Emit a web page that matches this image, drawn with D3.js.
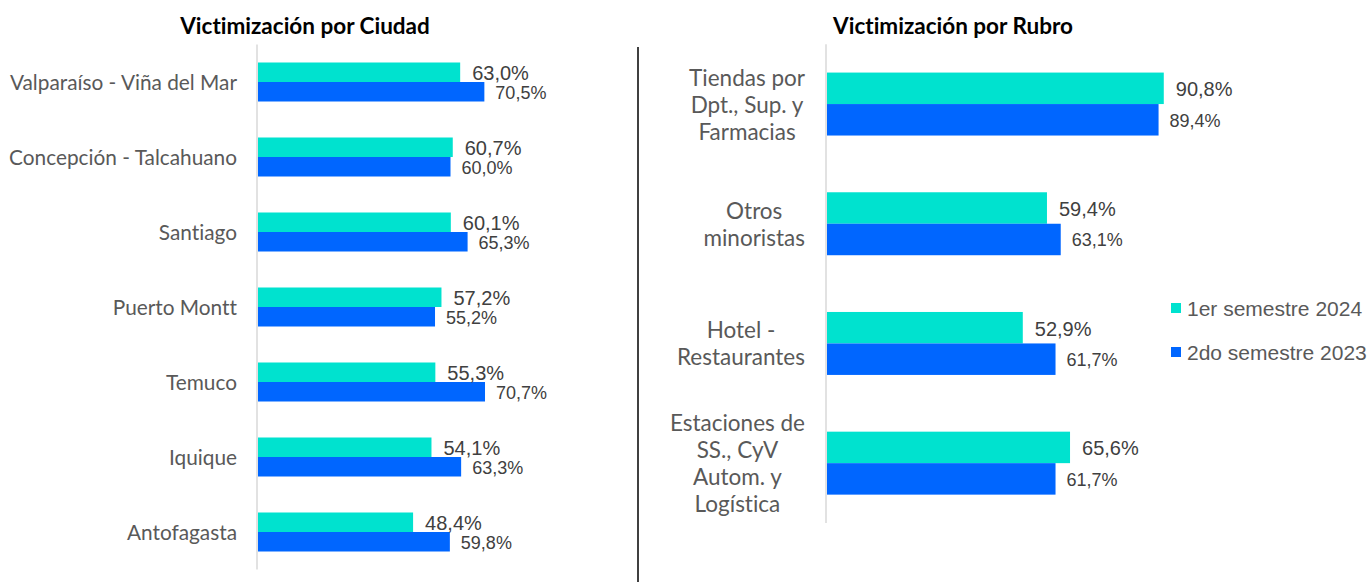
<!DOCTYPE html>
<html>
<head>
<meta charset="utf-8">
<script src="https://cdn.jsdelivr.net/npm/d3@7"></script>
<style>
  html, body { margin: 0; padding: 0; background: #fff; }
  svg { display: block; }
  text { font-variant-ligatures: none; font-feature-settings: "liga" 0, "dlig" 0; }
</style>
</head>
<body>
<svg id="chart" width="1369" height="582"></svg>
<script>
// ---- Data ----
const seriesNames = ["1er semestre 2024", "2do semestre 2023"];
const seriesColors = ["#00E2CF", "#0066FF"];

const cities = ["Valparaíso - Viña del Mar", "Concepción - Talcahuano", "Santiago", "Puerto Montt", "Temuco", "Iquique", "Antofagasta"];
const city2024 = [63.0, 60.7, 60.1, 57.2, 55.3, 54.1, 48.4];
const city2023 = [70.5, 60.0, 65.3, 55.2, 70.7, 63.3, 59.8];

const rubros = ["Tiendas por Dpt., Sup. y Farmacias", "Otros minoristas", "Hotel - Restaurantes", "Estaciones de SS., CyV Autom. y Logística"];
const rubroLines = [["Tiendas por", "Dpt., Sup. y", "Farmacias"], ["Otros", "minoristas"], ["Hotel -", "Restaurantes"], ["Estaciones de", "SS., CyV", "Autom. y", "Logística"]];
const rubro2024 = [90.8, 59.4, 52.9, 65.6];
const rubro2023 = [89.4, 63.1, 61.7, 61.7];

const fmt = v => d3.format(".1f")(v).replace(".", ",") + "%";

const svg = d3.select("#chart");
const catFont = "Lato, 'Noto Sans', sans-serif";
const numFont = "'Liberation Sans', Arial, sans-serif";

function panel(opts) {
  const { cats, s1, s2, x0, xPerUnit, yRange, padding, title, titleX } = opts;
  const x = d3.scaleLinear().domain([0, 100]).range([x0, x0 + 100 * xPerUnit]);
  const y = d3.scaleBand().domain(cats).range(yRange).paddingInner(padding).paddingOuter(padding / 2);
  const ys = d3.scaleBand().domain([0, 1]).range([0, y.bandwidth()]);
  const g = svg.append("g");

  // title
  g.append("text").attr("x", titleX).attr("y", 34).attr("text-anchor", "middle")
    .style("font-family", catFont).style("font-weight", "bold").style("font-size", "22.5px")
    .style("fill", "#000").text(title);

  // axis line
  g.append("line").attr("x1", x(0)).attr("x2", x(0))
    .attr("y1", yRange[0]).attr("y2", yRange[1])
    .attr("stroke", "#d9d9d9").attr("stroke-width", 1.5);

  const data = cats.map((c, i) => ({ c, v: [s1[i], s2[i]] }));
  const grp = g.selectAll("g.cat").data(data).join("g").attr("class", "cat")
    .attr("transform", d => `translate(0,${y(d.c)})`);

  grp.selectAll("rect").data(d => d.v.map((v, k) => ({ v, k }))).join("rect")
    .attr("x", x(0) + 1)
    .attr("y", d => ys(d.k))
    .attr("width", d => x(d.v) - x(0) - 1)
    .attr("height", ys.bandwidth())
    .attr("fill", d => seriesColors[d.k]);

  grp.selectAll("text.val").data(d => d.v.map((v, k) => ({ v, k }))).join("text")
    .attr("class", "val")
    .attr("x", d => x(d.v) + (d.k === 0 ? 12 : 11))
    .attr("y", d => ys(d.k) + ys.bandwidth() / 2 + 1)
    .attr("dominant-baseline", "central")
    .style("font-family", numFont)
    .style("font-size", d => d.k === 0 ? "20px" : "18px")
    .style("fill", "#404040")
    .text(d => fmt(d.v));

  return { g, x, y };
}

// Left panel
const left = panel({
  cats: cities, s1: city2024, s2: city2023,
  x0: 257, xPerUnit: 3.225, yRange: [44.5, 569.5], padding: 0.48,
  title: "Victimización por Ciudad", titleX: 305
});
left.g.selectAll("text.cat").data(cities).join("text").attr("class", "cat")
  .attr("x", 237).attr("y", d => left.y(d) + left.y.bandwidth() / 2 - 1)
  .attr("text-anchor", "end").attr("dominant-baseline", "central")
  .style("font-family", catFont).style("font-size", "20.8px").style("fill", "#595959")
  .text(d => d);

// Right panel
const right = panel({
  cats: rubros, s1: rubro2024, s2: rubro2023,
  x0: 826, xPerUnit: 3.72, yRange: [44.2, 523], padding: 0.474,
  title: "Victimización por Rubro", titleX: 953
});
rubros.forEach((r, i) => {
  const lines = rubroLines[i];
  const cy = right.y(r) + right.y.bandwidth() / 2;
  const lh = 27;
  const tg = right.g.append("g");
  const texts = tg.selectAll("text").data(lines).join("text")
    .attr("y", (d, j) => cy + (j - (lines.length - 1) / 2) * lh)
    .attr("text-anchor", "middle").attr("dominant-baseline", "central")
    .style("font-family", catFont).style("font-size", "22.5px").style("fill", "#595959")
    .text(d => d);
  let maxW = 0;
  texts.each(function () { maxW = Math.max(maxW, this.getComputedTextLength()); });
  texts.attr("x", 805 - maxW / 2);
});

// Divider
svg.append("line").attr("x1", 638).attr("x2", 638).attr("y1", 47).attr("y2", 582)
  .attr("stroke", "#404040").attr("stroke-width", 2);

// Legend
const leg = svg.append("g").attr("transform", "translate(1171,308)");
const li = leg.selectAll("g").data(seriesNames).join("g")
  .attr("transform", (d, i) => `translate(0,${i * 44})`);
li.append("rect").attr("x", 0).attr("y", -5).attr("width", 10).attr("height", 10)
  .attr("fill", (d, i) => seriesColors[i]);
li.append("text").attr("x", 16).attr("y", 0).attr("dominant-baseline", "central")
  .style("font-family", numFont).style("font-size", "21px").style("fill", "#595959")
  .text(d => d);
</script>
</body>
</html>
